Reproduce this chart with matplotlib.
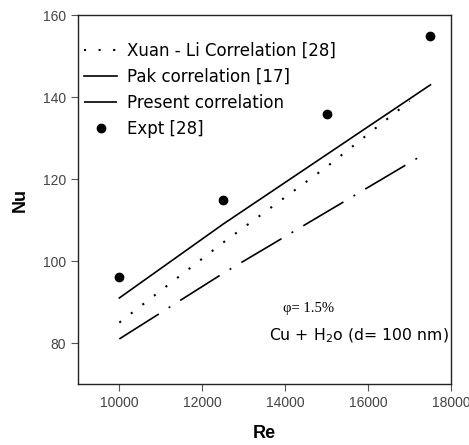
import matplotlib
matplotlib.use("Agg")
import matplotlib.pyplot as plt

# Data
re_expt = [10000, 12500, 15000, 17500]
nu_expt = [96, 115, 136, 155]
re_pak = [10000, 12500, 15000, 17500]
nu_pak = [91, 109, 126, 143]
re_xuan = [10000, 12500, 15000, 17000]
nu_xuan = [85, 104.5, 123, 139]
re_present = [10000, 12500, 15000, 17250]
nu_present = [81, 97, 112, 125.5]
x_ticks = [10000, 12000, 14000, 16000, 18000]
y_ticks = [80, 100, 120, 140, 160]

fig = plt.figure(figsize=(4.69, 4.45), dpi=100)
ax = fig.add_axes([0.166, 0.137, 0.796, 0.829])

ax.plot(re_xuan, nu_xuan, color='black', lw=1.5, linestyle=(0, (1, 6)),
        label='Xuan - Li Correlation [28]')
ax.plot(re_pak, nu_pak, color='black', lw=1.2, label='Pak correlation [17]')
ax.plot(re_present, nu_present, color='black', lw=1.2,
        linestyle=(0, (28, 7, 1.2, 7)), label='Present correlation')
ax.plot(re_expt, nu_expt, 'o', color='black', markersize=6, label='Expt [28]')

ax.set_xlim(9000, 18000)
ax.set_ylim(70, 160)
ax.set_xticks(x_ticks)
ax.set_yticks(y_ticks)
ax.tick_params(axis='both', direction='out', length=5, width=0.8, color='#555555',
               labelcolor='#444444', labelsize=10)
for lab in ax.get_xticklabels() + ax.get_yticklabels():
    lab.set_family('Liberation Sans')
for s in ax.spines.values():
    s.set_linewidth(1.0)
    s.set_color('#222222')

ax.set_xlabel('Re', fontsize=13, fontweight='bold', family='Liberation Sans', labelpad=11)
ax.set_ylabel('Nu', fontsize=13, fontweight='bold', family='Liberation Sans', labelpad=10)

leg = ax.legend(loc='upper left', frameon=False, fontsize=12, handlelength=2.0,
                handletextpad=0.6, labelspacing=0.48, bbox_to_anchor=(-0.01, 0.955),
                borderaxespad=0.2)

ax.text(13950, 88.5, 'φ= 1.5%', fontsize=10.5, family='Liberation Serif', va='center')
ax.text(13620, 81.7, r'Cu + H$_2$o (d= 100 nm)', fontsize=11.3, va='center')

fig.savefig('out.png', dpi=100)
